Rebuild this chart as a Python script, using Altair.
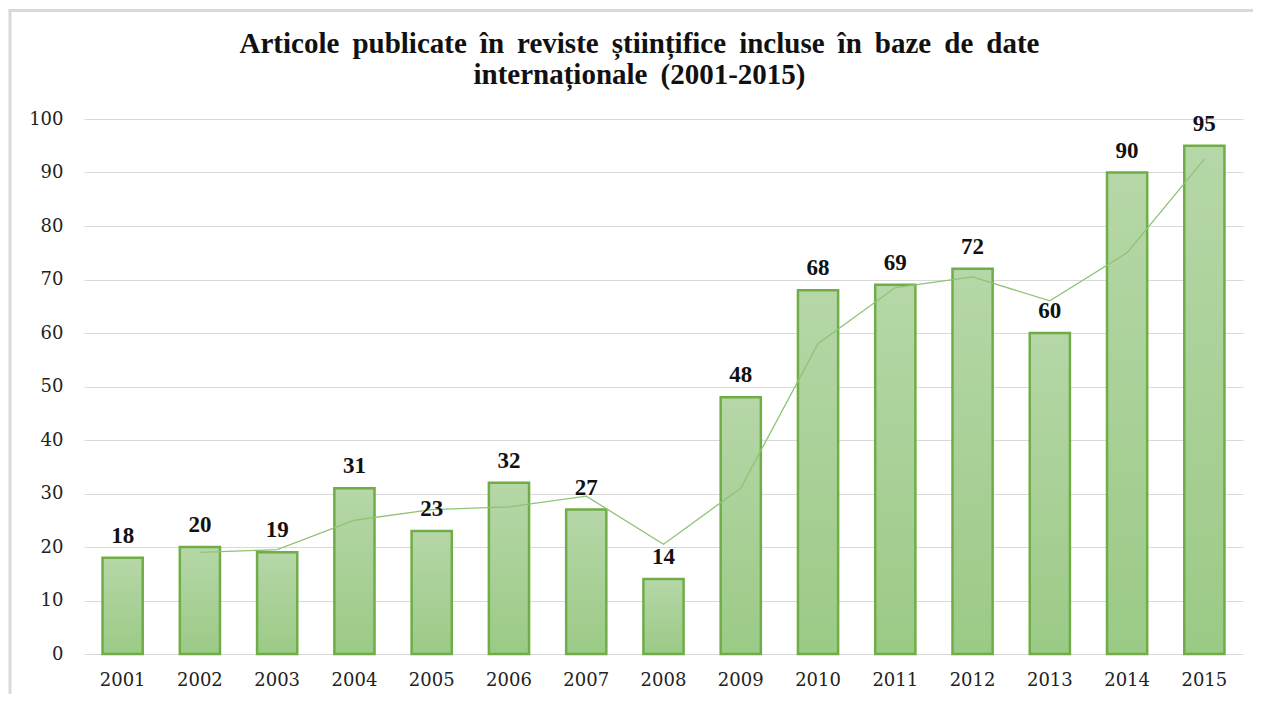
import altair as alt
import pandas as pd

years = [str(y) for y in range(2001, 2016)]
values = [18, 20, 19, 31, 23, 32, 27, 14, 48, 68, 69, 72, 60, 90, 95]
trend_years = [str(y) for y in range(2002, 2016)]
trend_values = [19, 19.5, 25, 27, 27.5, 29.5, 20.5, 31, 58, 68.5, 70.5, 66, 75, 92.5]
y_ticks = [0, 10, 20, 30, 40, 50, 60, 70, 80, 90, 100]

title_lines = ["Articole publicate în reviste științifice incluse în baze de date",
               "internaționale (2001-2015)"]
title_wide = [t.replace(" ", " \u2009") for t in title_lines]

df = pd.DataFrame({"year": years, "value": values})
tdf = pd.DataFrame({"year": trend_years, "trend": trend_values})
one = pd.DataFrame({"a": [0]})

xscale = alt.Scale(domain=years, paddingInner=0.48, paddingOuter=0.24)
yscale = alt.Scale(domain=[0, 100], nice=False)

base = alt.Chart(df)

bars = base.mark_bar(
    color=alt.Gradient(
        gradient="linear",
        stops=[alt.GradientStop(color="#b6d7a8", offset=0),
               alt.GradientStop(color="#9bca86", offset=1)],
        x1=0, x2=0, y1=0, y2=1,
    ),
    stroke="#70ad47",
    strokeWidth=2.5,
).encode(
    x=alt.X("year:N", scale=xscale, sort=years,
            axis=alt.Axis(title=None, labelAngle=0, domain=False, ticks=False,
                          labelFont="DejaVu Serif", labelFontSize=18,
                          labelColor="#222222", labelPadding=17)),
    y=alt.Y("value:Q", scale=yscale,
            axis=alt.Axis(title=None, values=y_ticks, domain=False, ticks=False,
                          gridColor="#d9d9d9", gridWidth=1,
                          labelFont="DejaVu Serif", labelFontSize=18,
                          labelColor="#222222", labelPadding=21)),
)

labels = base.mark_text(
    font="Liberation Serif", fontSize=23, fontWeight="bold", color="#111111",
    baseline="alphabetic", dy=-15,
).encode(
    x=alt.X("year:N", scale=xscale, sort=years),
    y=alt.Y("value:Q", scale=yscale),
    text=alt.Text("value:Q"),
)

line = alt.Chart(tdf).mark_line(color="#8fc474", strokeWidth=1.3).encode(
    x=alt.X("year:N", scale=xscale, sort=years),
    y=alt.Y("trend:Q", scale=yscale),
)

border_left = alt.Chart(one).mark_rule(color="#d9d9d9", strokeWidth=3).encode(
    x=alt.value(-74), y=alt.value(-108.5), y2=alt.value(800)
)
border_top = alt.Chart(one).mark_rule(color="#d9d9d9", strokeWidth=3).encode(
    x=alt.value(-75.5), x2=alt.value(1300), y=alt.value(-108.5)
)

chart = alt.layer(border_left, border_top, bars, line, labels).properties(
    width=1159,
    height=535,
    autosize=alt.AutoSizeParams(type="none"),
    padding={"left": 76, "top": 111, "right": 10, "bottom": 40},
    title=alt.TitleParams(
        text=title_wide, font="Liberation Serif", fontSize=29, fontWeight="bold",
        color="#111111", anchor="middle", offset=-81, dx=-24, lineHeight=31,
    ),
).configure_view(stroke=None)

chart.save("out.html", embed_options={"renderer": "svg", "actions": False})
